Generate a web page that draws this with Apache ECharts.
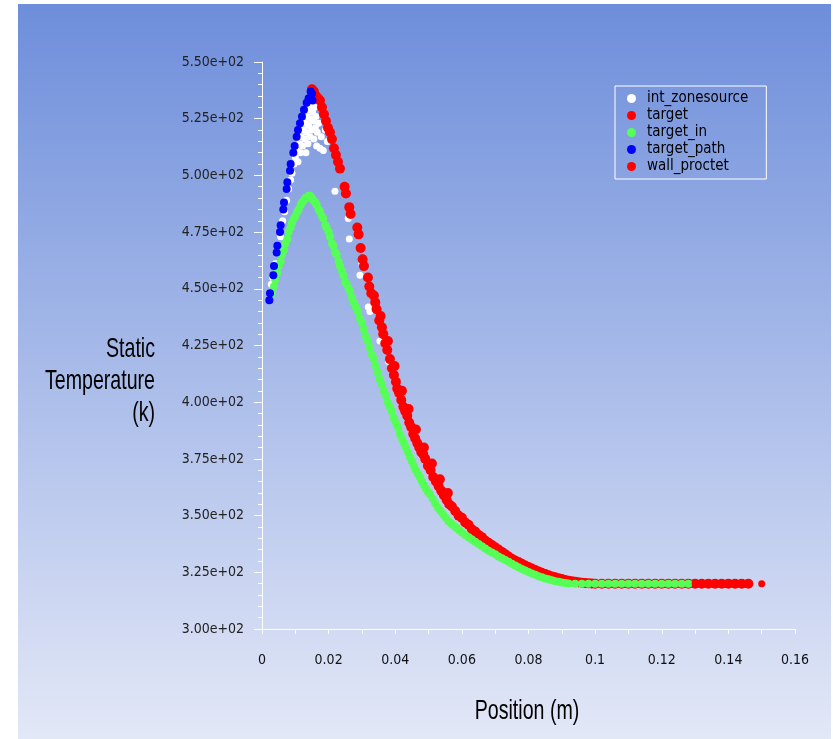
<!DOCTYPE html>
<html><head><meta charset="utf-8">
<script src="https://cdn.jsdelivr.net/npm/echarts@6/dist/echarts.min.js"></script>
<style>html,body{margin:0;padding:0;background:#fff}#c{width:833px;height:739px}</style>
</head><body><div id="c"></div>
<script>
var FONT = "'DejaVu Sans Condensed','Liberation Sans Narrow','Arial Narrow',sans-serif";
var TFONT = "'Liberation Sans',Arial,sans-serif";
var seriesNames = ['int_zonesource','target','target_in','target_path','wall_proctet'];
var xTicks = [0,0.02,0.04,0.06,0.08,0.1,0.12,0.14,0.16];
var yTicks = [300,325,350,375,400,425,450,475,500,525,550];
var xTitle = 'Position (m)';
var yTitleLines = ['Static','Temperature','(k)'];

var intZonesource = [[0.0028,452],[0.0032,455],[0.0040,461],[0.0048,467],[0.0056,473],[0.0062,480],[0.0068,484],[0.0074,489],[0.0080,494],[0.0086,498],[0.0090,501],[0.0096,505],[0.0100,508],[0.0104,511],[0.0108,506],[0.0112,514],[0.0116,510],[0.0118,517],[0.0122,513],[0.0124,520],[0.0128,516],[0.0130,523],[0.0132,510],[0.0134,519],[0.0136,526],[0.0138,514],[0.0140,522],[0.0142,529],[0.0144,517],[0.0146,525],[0.0148,531],[0.0150,520],[0.0152,528],[0.0154,524],[0.0156,516],[0.0158,530],[0.0160,521],[0.0162,526],[0.0164,513],[0.0166,519],[0.0170,523],[0.0174,512],[0.0178,517],[0.0184,511],[0.0190,520],[0.0196,515],[0.0219,493],[0.0259,481],[0.0262,472],[0.0294,456],[0.0300,461],[0.0319,442],[0.0324,440],[0.0354,427],[0.0380,418],[0.0420,398]];

var target = [[0.0150,538],[0.0156,537],[0.0162,535],[0.0168,534],[0.0174,533],[0.0180,530],[0.0186,527],[0.0192,524],[0.0198,521],[0.0204,519],[0.0210,516],[0.0216,512],[0.0222,509],[0.0228,506],[0.0234,503],[0.0248,495],[0.0252,492],[0.0262,486],[0.0266,483],[0.0286,477],[0.0290,474],[0.0296,468],[0.0302,463],[0.0306,460],[0.0318,455],[0.0322,451],[0.0328,448],[0.0336,447],[0.0340,444],[0.0344,441],[0.0352,436],[0.0356,438],[0.0360,433],[0.0364,430],[0.0370,426],[0.0376,423],[0.0378,427],[0.0384,419],[0.0390,415],[0.0396,412],[0.0398,416],[0.0402,409],[0.0406,406],[0.0412,404],[0.0418,401],[0.0420,405],[0.0424,398],[0.0430,396],[0.0436,394],[0.0440,397],[0.0442,391],[0.0448,389],[0.0454,386],[0.0460,384],[0.0462,388],[0.0466,382],[0.0472,380],[0.0478,378],[0.0484,377],[0.0486,380],[0.0490,375],[0.0498,372],[0.0506,370],[0.0510,373],[0.0514,367],[0.0522,365],[0.0530,363],[0.0534,366],[0.0538,361],[0.0546,359],[0.0554,357],[0.0558,360],[0.0562,355],[0.0570,354],[0.0580,352],[0.0590,350],[0.0600,349],[0.0610,347],[0.0620,346],[0.0630,344],[0.0640,343],[0.0650,341.5],[0.0660,340.5],[0.0670,339],[0.0680,338],[0.0690,337],[0.0700,336],[0.0710,335],[0.0720,334],[0.0730,333],[0.0740,332],[0.0750,331],[0.0760,330.2],[0.0770,329.5],[0.0780,328.8],[0.0790,328],[0.0800,327.3],[0.0810,326.7],[0.0820,326],[0.0830,325.4],[0.0840,324.8],[0.0850,324.2],[0.0860,323.7],[0.0870,323.2],[0.0880,322.8],[0.0890,322.4],[0.0900,322],[0.0910,321.6],[0.0920,321.3],[0.0930,321],[0.0940,320.8],[0.0950,320.6],[0.0960,320.4],[0.0970,320.3],[0.0980,320.2],[0.0990,320.1],[0.1000,320],[0.1020,320],[0.1040,320],[0.1060,320],[0.1080,320],[0.1100,320],[0.1120,320],[0.1140,320],[0.1160,320],[0.1180,320],[0.1200,320],[0.1220,320],[0.1240,320],[0.1260,320],[0.1280,320],[0.1300,320],[0.1320,320],[0.1340,320],[0.1360,320],[0.1380,320],[0.1400,320],[0.1420,320],[0.1440,320],[0.1460,320]];

var targetIn = [[0.0030,448],[0.0036,451],[0.0040,454],[0.0046,457],[0.0050,460],[0.0056,462],[0.0060,465],[0.0066,467],[0.0070,470],[0.0076,472],[0.0080,475],[0.0086,477],[0.0090,479],[0.0096,481],[0.0100,482],[0.0106,484],[0.0110,485],[0.0116,487],[0.0120,488],[0.0126,489],[0.0130,490],[0.0136,490],[0.0140,491],[0.0144,491],[0.0150,490],[0.0154,489],[0.0160,488],[0.0164,487],[0.0170,485],[0.0174,484],[0.0180,482],[0.0184,481],[0.0190,478],[0.0194,477],[0.0200,475],[0.0204,473],[0.0210,470],[0.0214,469],[0.0220,466],[0.0224,465],[0.0230,462],[0.0234,460],[0.0240,458],[0.0244,456],[0.0250,453],[0.0254,452],[0.0260,450],[0.0264,449],[0.0270,446],[0.0276,444],[0.0282,442],[0.0288,440],[0.0294,437],[0.0300,435],[0.0306,432],[0.0312,429],[0.0318,427],[0.0324,424],[0.0330,421],[0.0336,419],[0.0342,416],[0.0348,413],[0.0354,410],[0.0360,408],[0.0366,405],[0.0372,403],[0.0378,400],[0.0384,398],[0.0390,396],[0.0396,393],[0.0402,391],[0.0408,389],[0.0414,386],[0.0420,384],[0.0426,382],[0.0432,380],[0.0438,378],[0.0444,376],[0.0450,374],[0.0456,372],[0.0462,370],[0.0468,368.5],[0.0474,367],[0.0480,365],[0.0486,363.5],[0.0492,362],[0.0498,360.5],[0.0504,359.5],[0.0512,357.5],[0.0520,355.5],[0.0528,353.5],[0.0536,352],[0.0544,350.5],[0.0552,349],[0.0560,347.5],[0.0568,346.5],[0.0576,345.5],[0.0584,344.5],[0.0592,343.5],[0.0600,342.5],[0.0610,341.5],[0.0620,340.5],[0.0630,339.5],[0.0640,338.5],[0.0650,337.5],[0.0660,336.5],[0.0670,335.5],[0.0680,334.5],[0.0690,333.7],[0.0700,333],[0.0710,332],[0.0720,331.2],[0.0730,330.4],[0.0740,329.6],[0.0750,328.8],[0.0760,328],[0.0770,327.2],[0.0780,326.5],[0.0790,325.8],[0.0800,325.1],[0.0810,324.5],[0.0820,323.9],[0.0830,323.3],[0.0840,322.8],[0.0850,322.3],[0.0860,321.9],[0.0870,321.5],[0.0880,321.1],[0.0890,320.8],[0.0900,320.5],[0.0910,320.3],[0.0920,320.1],[0.0940,320],[0.0960,320],[0.0980,320],[0.1000,320],[0.1020,320],[0.1040,320],[0.1060,320],[0.1080,320],[0.1100,320],[0.1120,320],[0.1140,320],[0.1160,320],[0.1180,320],[0.1200,320],[0.1220,320],[0.1240,320],[0.1260,320],[0.1280,320]];

var targetPath = [[0.0022,445],[0.0024,448],[0.0034,456],[0.0036,460],[0.0044,466],[0.0046,469],[0.0054,475],[0.0056,478],[0.0064,485],[0.0066,488],[0.0074,494],[0.0076,497],[0.0084,502],[0.0086,505],[0.0094,510],[0.0098,513],[0.0104,517],[0.0108,520],[0.0114,523],[0.0120,526],[0.0126,529],[0.0134,532],[0.0140,534],[0.0146,537],[0.0150,536],[0.0152,533]];

var wallProctet = [[0.1300,320],[0.1330,320],[0.1360,320],[0.1390,320],[0.1420,320],[0.1450,320],[0.1500,320]];

var chart = echarts.init(document.getElementById('c'), null, {renderer:'canvas'});
function sc(name, data, color, size) {
  return {name:name, type:'scatter', data:data, symbol:'circle', symbolSize:size,
    itemStyle:{color:color, opacity:1}, animation:false, silent:true};
}
function titleText(str, x, y, align) {
  return {type:'text', x:x, y:y, scaleX:0.7, scaleY:1, silent:true, z:10,
    style:{text:str, font:'28px ' + TFONT, fill:'#000', textAlign:align, textVerticalAlign:'middle'}};
}
chart.setOption({
  animation:false,
  graphic:[
    {type:'rect', z:-100, silent:true, shape:{x:18,y:4,width:813,height:735},
     style:{fill:new echarts.graphic.LinearGradient(0,0,0,1,[{offset:0,color:'#6e8edb'},{offset:1,color:'#e3e8f7'}])}},
    titleText(yTitleLines[0], 155, 349, 'right'),
    titleText(yTitleLines[1], 155, 381, 'right'),
    titleText(yTitleLines[2], 155, 413, 'right'),
    titleText(xTitle, 527, 711, 'center')
  ],
  grid:{left:262, right:38, top:62, bottom:110},
  legend:{orient:'vertical', left:615, top:86, padding:[5,18,5,12], itemGap:2, itemWidth:9, itemHeight:12,
    borderColor:'#ffffff', borderWidth:1, backgroundColor:'transparent', icon:'circle',
    textStyle:{fontFamily:FONT, fontSize:15, color:'#000', padding:[0,0,0,6]},
    data:[{name:seriesNames[0]},{name:seriesNames[1]},{name:seriesNames[2]},{name:seriesNames[3]},{name:seriesNames[4]}]},
  xAxis:{type:'value', min:xTicks[0], max:xTicks[xTicks.length-1], interval:0.02,
    axisLine:{show:true, lineStyle:{color:'#ffffff', width:1}},
    axisTick:{show:true, length:5, lineStyle:{color:'#ffffff'}},
    minorTick:{show:true, splitNumber:2, length:5, lineStyle:{color:'#ffffff'}},
    splitLine:{show:false},
    axisLabel:{margin:24, fontFamily:FONT, fontSize:14, color:'#111'}},
  yAxis:{type:'value', min:yTicks[0], max:yTicks[yTicks.length-1], interval:25,
    axisLine:{show:true, lineStyle:{color:'#ffffff', width:1}},
    axisTick:{show:true, length:8, lineStyle:{color:'#ffffff'}},
    minorTick:{show:true, splitNumber:5, length:4, lineStyle:{color:'#ffffff'}},
    splitLine:{show:false},
    axisLabel:{margin:18, fontFamily:FONT, fontSize:14, color:'#222',
      formatter:function(v){ return v.toExponential(2).replace('e+','e+0'); }}},
  series:[
    sc(seriesNames[0], intZonesource, '#ffffff', 7),
    sc(seriesNames[1], target, '#ff0000', 10),
    sc(seriesNames[2], targetIn, '#55ff55', 8),
    sc(seriesNames[3], targetPath, '#0000ff', 8),
    sc(seriesNames[4], wallProctet, '#ff0000', 7)
  ]
});
</script></body></html>
